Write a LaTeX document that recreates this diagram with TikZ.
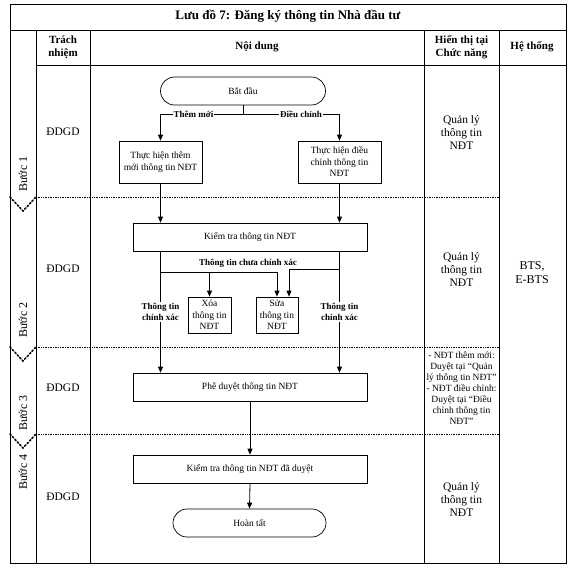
\documentclass[tikz,border=0pt]{standalone}
\usepackage{fontspec}
\setmainfont{Liberation Serif}
\usetikzlibrary{arrows.meta,calc}
\begin{document}
\begin{tikzpicture}[x=1pt,y=-1pt,
  box/.style={draw, line width=0.7pt, align=center, inner sep=1pt, font=\fontsize{9.5}{11.5}\selectfont},
  term/.style={draw, line width=0.7pt, rounded corners=14pt, inner sep=1pt, font=\fontsize{9.5}{11.5}\selectfont},
  arr/.style={line width=0.8pt, -{Triangle[length=6pt,width=5pt]}},
  ln/.style={line width=0.8pt},
  lab/.style={font=\bfseries\fontsize{9}{11}\selectfont, fill=white, inner sep=1pt, align=center},
  grid/.style={line width=0.7pt},
  sep/.style={densely dotted, line width=0.7pt},
  chev/.style={dotted, line width=1.6pt, line cap=round},
  hdr/.style={font=\bfseries\fontsize{11}{13}\selectfont, align=center},
  cell/.style={font=\fontsize{11.5}{13}\selectfont, align=center},
  stepl/.style={font=\fontsize{12}{14}\selectfont, rotate=90}
]
\useasboundingbox (0,0) rectangle (576,570);
% frame
\draw[grid] (10,4) rectangle (566,563);
\draw[grid] (10,30) -- (566,30);
\draw[grid] (36,65) -- (566,65);
\foreach \xx in {36,90,424,499} \draw[grid] (\xx,30) -- (\xx,563);
\foreach \yy in {197,347,434} {
  \draw[sep] (36,\yy) -- (499,\yy);
  \draw[chev] (10,\yy) -- (23,\yy+14) -- (36,\yy);
}
% title and headers
\node[font=\bfseries\fontsize{13}{15}\selectfont] (title) at (288,16) {Lưu đồ 7: Đăng ký thông tin Nhà đầu tư};
\node[hdr] (h1) at (63,47) {Trách\\nhiệm};
\node[hdr] (h2) at (257,47) {Nội dung};
\node[hdr] (h3) at (461.5,47) {Hiển thị tại\\Chức năng};
\node[hdr] (h4) at (532,47) {Hệ thống};
% steps
\node[stepl] (s1) at (23,174) {Bước 1};
\node[stepl] (s2) at (23,320) {Bước 2};
\node[stepl] (s3) at (23,413) {Bước 3};
\node[stepl] (s4) at (23,472) {Bước 4};
% responsibility
\node[cell] (r1) at (63,132) {ĐDGD};
\node[cell] (r2) at (63,269) {ĐDGD};
\node[cell] (r3) at (63,388) {ĐDGD};
\node[cell] (r4) at (63,497) {ĐDGD};
% display
\node[cell] (d1) at (461.5,133) {Quản lý\\thông tin\\NĐT};
\node[cell] (d2) at (461.5,270) {Quản lý\\thông tin\\NĐT};
\node[align=center, font=\fontsize{9.5}{11}\selectfont, inner sep=0pt] (d3) at (461.5,388.5) {- NĐT thêm mới:\\Duyệt tại “Quản\\lý thông tin NĐT”\\- NĐT điều chỉnh:\\Duyệt tại “Điều\\chỉnh thông tin\\NĐT”};
\node[cell] (d4) at (461.5,500) {Quản lý\\thông tin\\NĐT};
\node[cell, font=\fontsize{12}{14}\selectfont] (sys) at (532,273) {BTS,\\E-BTS};
% flow nodes
\node[term, minimum width=165pt, minimum height=28pt] (start) at (243,91) {Bắt đầu};
\node[box, minimum width=83pt, minimum height=42pt] (b1) at (160.5,162) {Thực hiện thêm\\mới thông tin NĐT};
\node[box, minimum width=83pt, minimum height=42pt] (b2) at (339.5,162) {Thực hiện điều\\chỉnh thông tin\\NĐT};
\node[box, minimum width=234pt, minimum height=28pt] (kt) at (250,237) {Kiểm tra thông tin NĐT};
\node[box, minimum width=43pt, minimum height=36pt] (xoa) at (209.5,315) {Xóa\\thông tin\\NĐT};
\node[box, minimum width=42pt, minimum height=36pt] (sua) at (277,315) {Sửa\\thông tin\\NĐT};
\node[box, minimum width=234pt, minimum height=28pt] (pd) at (250,387) {Phê duyệt thông tin NĐT};
\node[box, minimum width=234pt, minimum height=28pt] (kd) at (250,469) {Kiểm tra thông tin NĐT đã duyệt};
\node[term, minimum width=153pt, minimum height=28pt] (ht) at (249.5,523) {Hoàn tất};
% connectors
\coordinate (j1) at (243,114);
\draw[ln] (start.south) -- (j1);
\draw[arr] (j1) -| node[lab, pos=0.3] (lt) {Thêm mới} (b1.north);
\draw[arr] (j1) -| node[lab, pos=0.3] (ld) {Điều chỉnh} (b2.north);
\draw[arr] (b1.south) -- (b1.south |- kt.north);
\draw[arr] (b2.south) -- (b2.south |- kt.north);
\draw[arr] (b1.south |- kt.south) -- node[lab] (lc1) {Thông tin\\chính xác} (b1.south |- pd.north);
\draw[arr] (b2.south |- kt.south) -- node[lab] (lc2) {Thông tin\\chính xác} (b2.south |- pd.north);
\coordinate (L1) at (160.5,272);
\coordinate (R1) at (339.5,269);
\draw[arr] (L1) -| (sua.north);
\draw[arr] (xoa.north |- L1) -- (xoa.north);
\draw[arr] (R1) -| ([xshift=12pt]sua.north);
\node[lab, fill=none] (chua) at (248,263) {Thông tin chưa chính xác};
\draw[arr] (pd.south) -- (kd.north);
\draw[arr] (kd.south) -- (ht.north);
\end{tikzpicture}
\end{document}
